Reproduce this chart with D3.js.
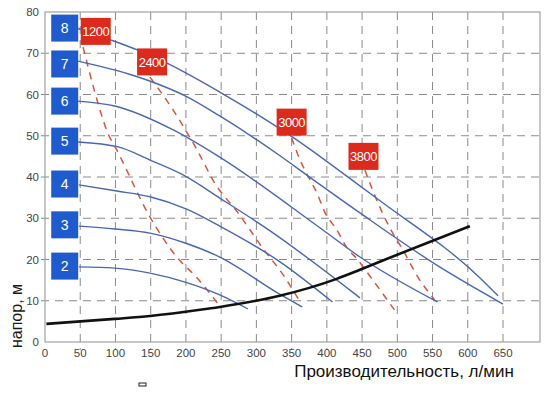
<!DOCTYPE html>
<html>
<head>
<meta charset="utf-8">
<script src="https://cdn.jsdelivr.net/npm/d3@7"></script>
<style>
    body { margin: 0; background: #ffffff; }
    text { font-family: "Liberation Sans", Arial, sans-serif; }
</style>
</head>
<body>
<script>

// axis ticks
let xTicks = [0, 50, 100, 150, 200, 250, 300, 350, 400, 450, 500, 550, 600, 650];
let yTicks = [0, 10, 20, 30, 40, 50, 60, 70, 80];

// pump curves per number of stages, [flow l/min, head m]
let stages = [8, 7, 6, 5, 4, 3, 2];
let curve8 = [[47, 76.0], [94, 73.2], [131, 70.8], [173, 67.6], [248, 60.6], [300, 55.3],
              [352, 49.6], [433, 39.6], [475, 34.3], [617, 15.6], [643, 11.2]];
let curve7 = [[47, 68.1], [120, 64.9], [159, 62.6], [201, 59.5], [248, 54.8], [333, 45.2],
              [372, 40.4], [447, 31.3], [560, 18.2], [650, 9.2]];
let curve6 = [[46, 58.4], [99, 57.2], [182, 51.4], [248, 44.8], [394, 27.2], [447, 20.6],
              [557, 9.7]];
let curve5 = [[47, 48.5], [104, 47.3], [149, 44.1], [196, 40.5], [248, 34.9], [319, 27.0],
              [447, 10.7]];
let curve4 = [[48, 38.1], [102, 36.6], [149, 35.2], [201, 32.2], [248, 28.1], [333, 19.5],
              [408, 9.7]];
let curve3 = [[48, 28.1], [99, 27.4], [149, 26.4], [199, 24.0], [248, 20.6], [333, 11.6],
              [365, 8.5]];
let curve2 = [[48, 18.2], [99, 17.9], [149, 16.7], [199, 14.5], [248, 11.4], [288, 8.0]];
let pumpCurves = [curve8, curve7, curve6, curve5, curve4, curve3, curve2];

// stage label positions [flow, head]
let stageLabels = [[28, 76.1], [28, 67.4], [28, 58.4], [28, 48.7], [28, 38.3], [28, 28.4], [28, 18.4]];

// speed lines (red dashed)
let speeds = ["1200", "2400", "3000", "3800"];
let speed1200 = [[54, 71.5], [71, 60.4], [89, 50.7], [102, 46.5], [149, 30.3], [187, 20.6],
                 [216, 15.5], [248, 8.7]];
let speed2400 = [[149, 64.2], [182, 56.2], [216, 46.5], [241, 38.5], [274, 31.3], [308, 23.0],
                 [340, 15.8], [362, 9.7]];
let speed3000 = [[350, 49.5], [362, 44.1], [373, 40.3], [386, 36.1], [397, 31.5], [414, 27.2],
                 [428, 23.0], [444, 19.9], [461, 16.0], [496, 7.8]];
let speed3800 = [[454, 41.7], [465, 36.8], [489, 27.8], [508, 22.3], [529, 15.8], [553, 10.2]];
let speedLines = [speed1200, speed2400, speed3000, speed3800];
let speedLabels = [[72, 75.3], [152, 67.9], [350, 53.3], [452, 45.0]];

// system curve (black)
let systemCurve = [[2, 4.4], [99, 5.6], [149, 6.3], [220, 7.8], [248, 8.5], [333, 11.2],
                   [414, 15.3], [447, 17.5], [499, 21.1], [603, 28.1]];


window.onload = function() {
    main();
};


/**
 * Builds the whole chart.
 */
function main() {
    let w = 552;
    let h = 394;
    let margins = {top: 12, bottom: 52, left: 45, right: 12};

    let svg = d3.select("body")
                .append("svg")
                .attr("width", w)
                .attr("height", h);

    // scales
    let x = d3.scaleLinear()
              .domain([0, 702.5])
              .range([margins.left, w - margins.right]);
    let y = d3.scaleLinear()
              .domain([0, 80])
              .range([h - margins.bottom, margins.top]);

    drawGrid(svg, x, y);
    drawCurves(svg, x, y);
    drawLabels(svg, x, y);
}


/**
 * Frame, dashed grid, tick labels and axis titles.
 */
function drawGrid(svg, x, y) {
    let grid = svg.append("g");

    // vertical dashed lines
    grid.selectAll(".vgrid")
        .data(xTicks.slice(1))
        .enter()
        .append("line")
        .attr("x1", d => x(d))
        .attr("x2", d => x(d))
        .attr("y1", y(80))
        .attr("y2", y(0) + 8)
        .attr("stroke", "#8a8a8a")
        .attr("stroke-width", 1)
        .attr("stroke-dasharray", "8,6");

    // horizontal dashed lines
    grid.selectAll(".hgrid")
        .data(yTicks.slice(1, -1))
        .enter()
        .append("line")
        .attr("x1", x(0) - 4)
        .attr("x2", x.range()[1])
        .attr("y1", d => y(d))
        .attr("y2", d => y(d))
        .attr("stroke", "#8a8a8a")
        .attr("stroke-width", 1)
        .attr("stroke-dasharray", "8,6");

    // frame
    grid.append("rect")
        .attr("x", x(0))
        .attr("y", y(80))
        .attr("width", x.range()[1] - x(0))
        .attr("height", y(0) - y(80))
        .attr("fill", "none")
        .attr("stroke", "#a0a0a0")
        .attr("stroke-width", 1.2);

    // tick labels
    svg.append("g")
       .selectAll("text")
       .data(yTicks)
       .enter()
       .append("text")
       .attr("x", x(0) - 6)
       .attr("y", d => y(d) + 4)
       .attr("text-anchor", "end")
       .attr("font-size", 11.5)
       .attr("fill", "#444")
       .text(d => d);

    svg.append("g")
       .selectAll("text")
       .data(xTicks)
       .enter()
       .append("text")
       .attr("x", d => x(d))
       .attr("y", y(0) + 15)
       .attr("text-anchor", "middle")
       .attr("font-size", 11.5)
       .attr("fill", "#444")
       .text(d => d);

    // axis titles
    svg.append("text")
       .attr("transform", "translate(22," + 316 + ") rotate(-90)")
       .attr("text-anchor", "middle")
       .attr("font-size", 16)
       .attr("fill", "#1a1a1a")
       .text("напор, м");

    svg.append("text")
       .attr("x", 404)
       .attr("y", 377)
       .attr("text-anchor", "middle")
       .attr("font-size", 17)
       .attr("fill", "#111")
       .text("Производительность, л/мин");

    // small stray box under the axis
    svg.append("rect")
       .attr("x", 139)
       .attr("y", 383)
       .attr("width", 7)
       .attr("height", 3)
       .attr("fill", "none")
       .attr("stroke", "#222")
       .attr("stroke-width", 1);
}


/**
 * Pump curves, speed lines and system curve.
 */
function drawCurves(svg, x, y) {
    let line = d3.line()
                 .x(d => x(d[0]))
                 .y(d => y(d[1]))
                 .curve(d3.curveMonotoneX);

    svg.append("g")
       .selectAll("path")
       .data(speedLines)
       .enter()
       .append("path")
       .attr("d", line)
       .attr("fill", "none")
       .attr("stroke", "#d8553c")
       .attr("stroke-width", 1.5)
       .attr("stroke-dasharray", "7,6");

    svg.append("g")
       .selectAll("path")
       .data(pumpCurves)
       .enter()
       .append("path")
       .attr("d", line)
       .attr("fill", "none")
       .attr("stroke", "#4a67b4")
       .attr("stroke-width", 1.4);

    svg.append("path")
       .datum(systemCurve)
       .attr("d", line)
       .attr("fill", "none")
       .attr("stroke", "#111")
       .attr("stroke-width", 2.6);
}


/**
 * Blue stage boxes and red speed boxes.
 */
function drawLabels(svg, x, y) {
    let bw = 27;
    let bh = 27;

    let blue = svg.append("g")
                  .selectAll("g")
                  .data(stages)
                  .enter()
                  .append("g")
                  .attr("transform", (d, i) => "translate(" + x(stageLabels[i][0]) + ","
                                               + y(stageLabels[i][1]) + ")");
    blue.append("rect")
        .attr("x", -bw / 2)
        .attr("y", -bh / 2)
        .attr("width", bw)
        .attr("height", bh)
        .attr("fill", "#1f5bcc");
    blue.append("text")
        .attr("text-anchor", "middle")
        .attr("y", 5)
        .attr("font-size", 14)
        .attr("fill", "#fff")
        .text(d => d);

    let red = svg.append("g")
                 .selectAll("g")
                 .data(speeds)
                 .enter()
                 .append("g")
                 .attr("transform", (d, i) => "translate(" + x(speedLabels[i][0]) + ","
                                              + y(speedLabels[i][1]) + ")");
    red.append("rect")
       .attr("x", -15)
       .attr("y", -bh / 2)
       .attr("width", 30)
       .attr("height", bh)
       .attr("fill", "#dc2a1c");
    red.append("text")
       .attr("text-anchor", "middle")
       .attr("y", 5)
       .attr("font-size", 13)
       .attr("letter-spacing", -0.5)
       .attr("fill", "#fff")
       .text(d => d);
}

</script>
</body>
</html>
